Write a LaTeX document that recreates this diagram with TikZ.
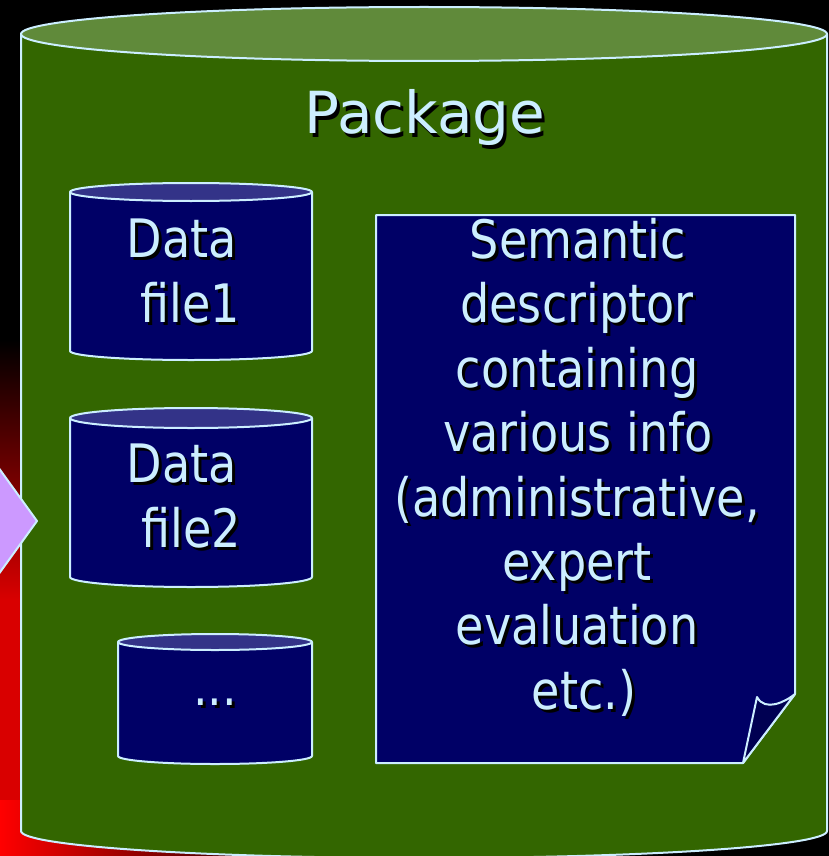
\documentclass[tikz,border=0pt]{standalone}
\usepackage{fontspec}
\setmainfont{DejaVu Sans}[FakeStretch=0.87]
\newfontfamily\pkgfont{DejaVu Sans}
\definecolor{bodygreen}{HTML}{336600}
\definecolor{topgreen}{HTML}{608A3A}
\definecolor{navy}{HTML}{000066}
\definecolor{topnavy}{HTML}{333388}
\definecolor{foldnavy}{HTML}{000052}
\definecolor{edge}{HTML}{CCEEFF}
\definecolor{arrowpurple}{HTML}{CC99FF}
\tikzset{
  outline/.style={draw=edge, line width=2pt, line join=round},
  txt/.style={inner sep=0pt, anchor=base, text=edge, font=\fontsize{53}{64}\selectfont},
  bigtxt/.style={txt, font=\pkgfont\fontsize{58}{70}\selectfont},
}
\newcommand\shline[4]{% style, name, x,y, text
  \node[#1, text=black] (#2sh) at ([shift={(3,3)}]#3) {#4};
  \node[#1] (#2) at (#3) {#4};}
\begin{document}
\begin{tikzpicture}[x=1pt,y=-1pt]
\useasboundingbox (0,0) rectangle (829,856);
\clip (0,0) rectangle (829,856);
% background
\fill[black] (0,0) rectangle (829,856);
\shade[top color=black, bottom color=red!85!black] (0,340) rectangle (30,600);
\fill[red!85!black] (0,600) rectangle (30,856);
\shade[left color=red, right color=black] (0,800) rectangle (320,856);
% package cylinder
\path[fill=bodygreen] (21,34) -- (21,831) arc[start angle=180, end angle=360, x radius=403, y radius=-27] -- (827,34) -- cycle;
\draw[outline] (21,34) -- (21,831) arc[start angle=180, end angle=360, x radius=403, y radius=-27] -- (827,34);
\draw[outline, fill=topgreen] (424,34) ellipse[x radius=403, y radius=27];
% arrow tip
\draw[outline, fill=arrowpurple] (-20,442) -- (37,521) -- (-20,600);
% data file 1
\draw[outline, fill=navy] (70,192) -- (70,351) arc[start angle=180, end angle=360, x radius=121, y radius=-9] -- (312,192);
\draw[outline, fill=topnavy] (191,192) ellipse[x radius=121, y radius=9];
% data file 2
\draw[outline, fill=navy] (70,418) -- (70,577) arc[start angle=180, end angle=360, x radius=121, y radius=-10] -- (312,418);
\draw[outline, fill=topnavy] (191,418) ellipse[x radius=121, y radius=10];
% third file
\draw[outline, fill=navy] (118,642) -- (118,756) arc[start angle=180, end angle=360, x radius=97, y radius=-8] -- (312,642);
\draw[outline, fill=topnavy] (215,642) ellipse[x radius=97, y radius=8];
% semantic descriptor note
\draw[outline, fill=navy] (376,215) -- (795,215) -- (795,694) -- (743,763) -- (376,763) -- cycle;
\draw[outline, fill=foldnavy] (743,763) -- (757,697) .. controls (765,712) and (785,702) .. (795,694) -- cycle;
% texts
\shline{bigtxt}{pkg}{425,134}{Package}
\shline{txt}{da}{182,257}{Data}
\shline{txt}{fa}{190,322}{file1}
\shline{txt}{db}{182,482}{Data}
\shline{txt}{fb}{191,547}{file2}
\shline{txt}{dots}{215,705}{...}
\shline{txt}{s1}{578,258}{Semantic}
\shline{txt}{s2}{577,322}{descriptor}
\shline{txt}{s3}{577,387}{containing}
\shline{txt}{s4}{578,451}{various info}
\shline{txt}{s5}{577,516}{(administrative,}
\shline{txt}{s6}{577,580}{expert}
\shline{txt}{s7}{577,644}{evaluation}
\shline{txt}{s8}{584,709}{etc.)}
\end{tikzpicture}
\end{document}
